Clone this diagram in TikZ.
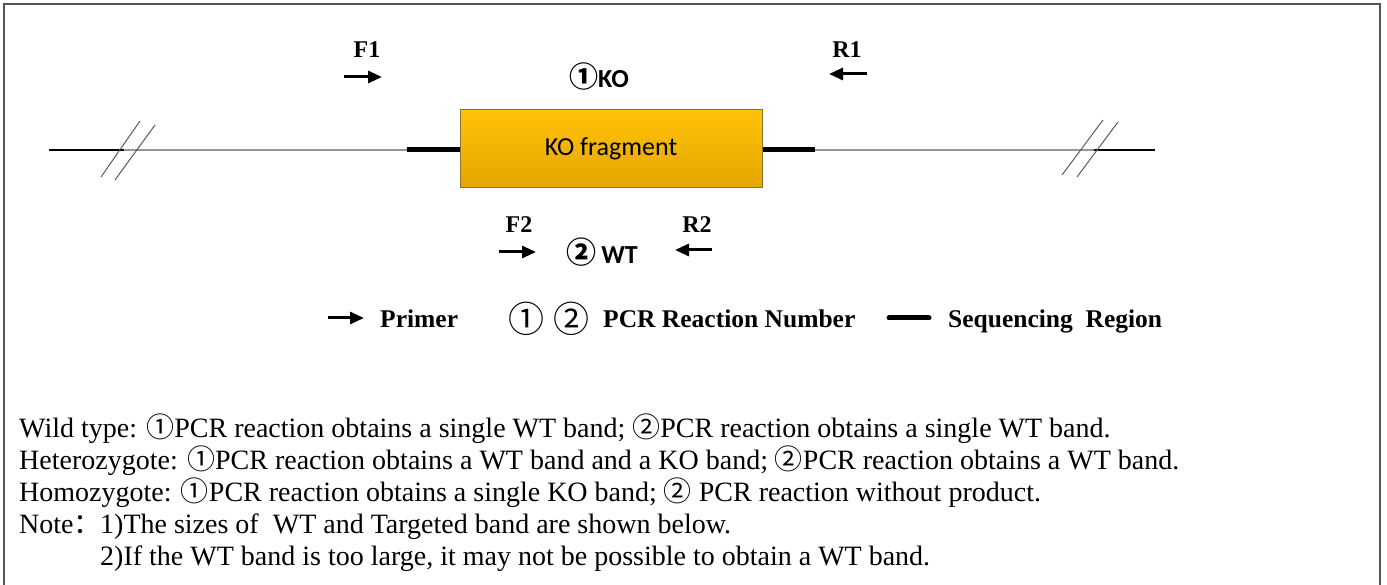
\documentclass[tikz,border=0pt]{standalone}
\usepackage{fontspec}
\setmainfont{Liberation Serif}
\newfontfamily\carlito{Carlito}
\newfontfamily\cjk{Noto Sans CJK SC}
\usetikzlibrary{arrows.meta}
\definecolor{framec}{RGB}{85,85,85}
\definecolor{dnagray}{RGB}{150,150,150}
\definecolor{boxtop}{RGB}{255,194,10}
\definecolor{boxbot}{RGB}{228,166,0}
\definecolor{boxline}{RGB}{140,115,50}
\definecolor{breakc}{RGB}{90,90,90}
\tikzset{
  lbl/.style={inner sep=0pt,font=\fontsize{24}{28}\selectfont\bfseries},
  primer/.style={line width=3pt,-{Triangle[length=14pt,width=12pt]}},
  thinblack/.style={line width=1.3pt,black},
  dnaline/.style={line width=2.8pt,dnagray},
  seqline/.style={line width=5pt,black},
  breakmark/.style={line width=1pt,breakc},
  legend/.style={inner sep=0pt,anchor=base west,font=\fontsize{25.5}{30}\selectfont\bfseries},
  bodytext/.style={inner sep=0pt,anchor=base west,font=\fontsize{28}{32}\selectfont},
}
\begin{document}
\begin{tikzpicture}[x=1pt,y=-1pt]
\useasboundingbox (0,0) rectangle (1387,585);
% frame
\draw[line width=1.3pt,framec] (4,590) -- (4,4) -- (1380,4) -- (1380,590);
% DNA line
\coordinate (a0) at (49,150);
\coordinate (a1) at (124,150);
\coordinate (a2) at (407,150);
\coordinate (b2) at (815,150);
\coordinate (b1) at (1094,150);
\coordinate (b0) at (1155,150);
\node[draw=boxline,line width=1pt,top color=boxtop,bottom color=boxbot,
      minimum width=302pt,minimum height=78pt,inner sep=0pt] (box) at (611,149)
      {\carlito\fontsize{26}{30}\selectfont KO fragment};
\draw[thinblack] (a0) -- (a1);
\draw[dnaline] (a1) -- (a2);
\draw[seqline] (a2) -- (box.west |- a2);
\draw[seqline] (box.east |- b2) -- (b2);
\draw[dnaline] (b2) -- (b1);
\draw[thinblack] (b1) -- (b0);
% break marks
\draw[breakmark] (101,177) -- (140,121);
\draw[breakmark] (115,180) -- (155,125);
\draw[breakmark] (1062,175) -- (1103,120);
\draw[breakmark] (1077,177) -- (1118,122);
% primers
\node[lbl] (F1) at (367,50) {F1};
\coordinate (f1s) at (344,77); \coordinate (f1e) at (382,77);
\draw[primer] (f1s) -- (f1e);
\node[lbl] (R1) at (847,50) {R1};
\coordinate (r1s) at (867,74); \coordinate (r1e) at (829,74);
\draw[primer] (r1s) -- (r1e);
\node[inner sep=0pt] (ko) at (599,76) {{\cjk\bfseries\fontsize{29}{30}\selectfont ①}{\carlito\bfseries\fontsize{26}{28}\selectfont KO}};
\node[lbl] (F2) at (519,225) {F2};
\coordinate (f2s) at (499,252); \coordinate (f2e) at (536,252);
\draw[primer] (f2s) -- (f2e);
\node[lbl] (R2) at (697,225) {R2};
\coordinate (r2s) at (712,250); \coordinate (r2e) at (675,250);
\draw[primer] (r2s) -- (r2e);
\node[inner sep=0pt] (wt) at (602,252) {{\cjk\bfseries\fontsize{30}{30}\selectfont ②}\hspace{5pt}{\carlito\bfseries\fontsize{26}{28}\selectfont WT}};
% legend
\coordinate (ls) at (328,318); \coordinate (le) at (364,318);
\draw[primer] (ls) -- (le);
\node[legend] (primer) at (380,327) {Primer};
\node[inner sep=0pt] (circ) at (549,319) {{\cjk\fontsize{36}{36}\selectfont ①\hspace{10pt}②}};
\node[legend] (pcr) at (603,327) {PCR Reaction Number};
\coordinate (ss) at (889,318); \coordinate (se) at (929,318);
\draw[seqline,line cap=round] (ss) -- (se);
\node[legend] (seq) at (948,327) {Sequencing\ \ Region};
% text
\node[bodytext] (t1) at (19,437) {Wild type: {\cjk ①}PCR reaction obtains a single WT band; {\cjk ②}PCR reaction obtains a single WT band.};
\node[bodytext] (t2) at (19,469) {Heterozygote: {\cjk ①}PCR reaction obtains a WT band and a KO band; {\cjk ②}PCR reaction obtains a WT band.};
\node[bodytext] (t3) at (19,501) {Homozygote: {\cjk ①}PCR reaction obtains a single KO band; {\cjk ②} PCR reaction without product.};
\node[bodytext] (t4) at (19,533) {Note{\cjk ：}};
\node[bodytext] (t4b) at (100,533) {1)The sizes of \ WT and Targeted band are shown below.};
\node[bodytext] (t5) at (100,565) {2)If the WT band is too large, it may not be possible to obtain a WT band.};
\end{tikzpicture}
\end{document}
